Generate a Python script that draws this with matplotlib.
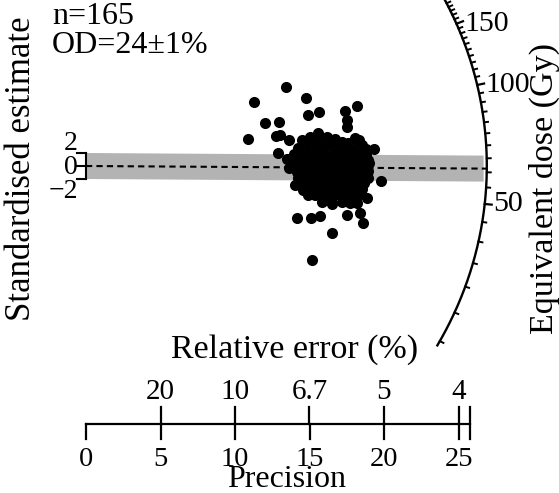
import numpy as np
import matplotlib
matplotlib.use('Agg')
import matplotlib.pyplot as plt
from matplotlib.patches import Polygon

plt.rcParams['font.family'] = ['Liberation Serif', 'DejaVu Serif']

# grains: precision (1/rel. error) and standardised estimate
precision = [
    13.42, 11.30, 14.74, 14.92, 15.66, 12.01, 12.95, 10.87, 12.75, 13.64,
    17.38, 18.19, 17.54, 17.50, 18.03, 18.34, 19.33, 12.91, 13.47, 13.64,
    18.97, 19.78, 14.14, 15.08, 15.70, 16.49, 15.19, 17.50, 18.39, 18.57,
    18.84, 18.17, 16.15, 14.03, 14.56, 14.48, 15.59, 16.15, 15.03, 13.02,
    14.90, 18.95, 18.61,
    14.70, 15.37, 16.04, 16.71, 17.18,
    14.23, 14.90, 15.57, 16.24, 16.91, 17.58, 18.26, 18.79,
    13.96, 14.56, 15.17, 15.77, 16.38, 16.98, 17.58, 18.19, 18.79,
    14.09, 14.70, 15.30, 15.91, 16.51, 17.11, 17.72, 18.32, 18.93,
    13.89, 14.50, 15.10, 15.70, 16.31, 16.91, 17.52, 18.12, 18.72,
    14.15, 14.75, 15.35, 15.95, 16.55, 17.15, 17.75, 18.35, 18.90,
    14.23, 14.83, 15.44, 16.04, 16.64, 17.25, 17.85, 18.46,
    14.56, 15.17, 15.77, 16.38, 16.98, 17.58, 18.19, 18.66,
    15.03, 15.64, 16.24, 16.85, 17.45, 18.05, 18.52,
    15.37, 15.97, 16.58, 17.18, 17.79, 18.26,
    15.84, 16.51, 17.18, 17.72,
    15.0, 15.9, 16.7, 17.4, 18.0, 14.4, 15.5, 16.2, 17.3, 18.0,
    14.3, 15.4, 16.0, 16.8, 17.6, 18.4, 14.4, 15.2, 16.1, 16.9,
    17.8, 14.9, 15.7, 16.4, 17.4, 18.1, 15.4, 16.2, 17.0, 17.9,
    15.8, 16.6, 17.4, 16.0, 16.9,
    16.3, 17.6, 15.3, 18.5, 16.0,
]
std_estimate = [
    12.20, 9.89, 10.51, 7.85, 8.26, 6.66, 6.72, 4.15, 4.62, 4.00,
    8.51, 9.23, 7.08, 6.05, 4.35, 4.00, 2.62, 1.95, 1.03, -0.35,
    0.42, -2.31, -7.95, -8.05, -7.65, -10.26, -14.46, -7.54, -7.28, -8.82,
    -4.97, -5.74, -5.23, -2.92, -3.69, 4.00, 5.03, 4.51, 4.51, 4.77,
    -4.46, -1.89, 0.92,
    3.9, 4.2, 3.8, 4.1, 3.7,
    2.8, 3.1, 2.9, 3.2, 2.7, 3.0, 2.9, 2.6,
    1.9, 1.7, 2.0, 1.8, 1.6, 2.0, 1.7, 1.9, 1.8,
    0.9, 1.1, 0.8, 1.0, 0.7, 0.9, 1.1, 0.8, 1.0,
    0.1, -0.2, 0.0, 0.2, -0.1, 0.1, -0.2, 0.0, 0.1,
    -0.9, -1.0, -0.8, -1.1, -0.9, -0.7, -1.0, -0.9, -0.8,
    -1.8, -2.0, -1.7, -1.9, -1.8, -2.0, -1.7, -1.9,
    -2.7, -2.9, -2.6, -2.8, -2.9, -2.7, -2.8, -2.6,
    -3.6, -3.8, -3.7, -3.6, -3.8, -3.7, -3.5,
    -4.5, -4.7, -4.6, -4.5, -4.7, -4.4,
    -5.6, -5.8, -5.5, -5.7,
    2.4, 2.3, 2.5, 2.2, 2.4, 1.3, 1.4, 1.2, 1.5, 1.3,
    0.5, 0.4, 0.6, 0.4, 0.5, 0.4, -0.5, -0.4, -0.6, -0.4,
    -0.5, -1.4, -1.3, -1.5, -1.4, -1.3, -2.3, -2.4, -2.2, -2.3,
    -3.2, -3.3, -3.1, -4.1, -4.2,
    3.5, 3.6, 3.4, 3.3, -5.0,
]

n_grains = 165
overdispersion = '24±1%'
central_dose = 62.2        # Gy, where the 0 line meets the arc
central_slope = -0.015     # dashed line leans a little
dose_range = [19.3, 215.0]
dose_major = [50, 100, 150]
dose_minor = [20, 25, 30, 35, 40, 45, 55, 60, 65, 70, 75, 80, 85, 90, 95,
              105, 110, 115, 120, 125, 130, 135, 140, 145, 155, 160, 165,
              170, 175, 180, 185, 190, 195, 200, 205, 210]
precision_ticks = [0, 5, 10, 15, 20, 25]
precision_max = 25.74
rel_error_ticks = [20, 10, 6.667, 5, 4]
rel_error_labels = ['20', '10', '6.7', '5', '4']

# pixel layout of the 559x493 picture
W, H = 559, 493
X0, KX = 86.0, 14.9     # pixel of precision 0, pixels per unit
Y0, KY = 166.0, 6.5     # pixel of estimate 0, pixels per unit


def px(x):
    return (x - X0) / KX


def py(y):
    return (Y0 - y) / KY


R, F2 = 26.9, 0.22
z0 = np.log(central_dose)


def on_arc(d, extra_px=0.0):
    s = np.log(d) - z0
    x = R / np.sqrt(1 + F2 * s ** 2)
    y = s * x
    if extra_px:
        n = np.hypot(x * KX, y * KY)
        k = (n + extra_px) / n
        x, y = x * k, y * k
    return x, y


fig = plt.figure(figsize=(W / 100, H / 100), dpi=100)
ax = fig.add_axes([0, 0, 1, 1])
ax.set_xlim(px(0), px(W))
ax.set_ylim(py(H), py(0))
ax.axis('off')

# +-2 band and central line
xe = R * 0.992
band = Polygon([(0, -2), (0, 2), (xe, 2 + central_slope * xe), (xe, -2 + central_slope * xe)],
               closed=True, facecolor='#b3b3b3', edgecolor='none', zorder=1)
ax.add_patch(band)
ax.plot([0, R], [0, central_slope * R], color='k', lw=1.5, ls=(0, (3, 2)), zorder=2)

ax.scatter(precision, std_estimate, s=64, c='k', linewidths=0, zorder=3)

# dose arc
d = np.geomspace(dose_range[0], dose_range[1], 400)
ax.plot(*on_arc(d), color='k', lw=1.7, zorder=4)
for v in dose_minor:
    x1, y1 = on_arc(v)
    x2, y2 = on_arc(v, 4)
    ax.plot([x1, x2], [y1, y2], color='k', lw=1.4)
for v in dose_major:
    x1, y1 = on_arc(v)
    x2, y2 = on_arc(v, 7)
    ax.plot([x1, x2], [y1, y2], color='k', lw=1.6)
    ax.text(x1 + 8 / KX, y1, str(v), fontsize=21.5, ha='left', va='center')

# short y axis
ax.plot([0, 0], [-2, 2], color='k', lw=1.5)
for v in [-2, 0, 2]:
    ax.plot([-9 / KX, 0], [v, v], color='k', lw=1.5)
ax.text(px(78), py(143), '2', fontsize=20, ha='right', va='center')
ax.text(px(78), py(167), '0', fontsize=20, ha='right', va='center')
ax.text(px(78), py(192), '−2', fontsize=20, ha='right', va='center')

# precision / relative error axis
yb, ydn, yup = py(424), py(439), py(407)
ax.plot([0, precision_max], [yb, yb], color='k', lw=1.6)
for v in precision_ticks:
    ax.plot([v, v], [yb, ydn], color='k', lw=1.6)
    ax.text(v, py(466), str(v), fontsize=20.5, ha='center', va='baseline')
for v, lab in zip(rel_error_ticks, rel_error_labels):
    p = 100 / v
    ax.plot([p, p], [yb, yup], color='k', lw=1.6)
    ax.text(p, py(399), lab, fontsize=21, ha='center', va='baseline')
ax.plot([precision_max, precision_max], [ydn, yup], color='k', lw=1.6)

ax.text(px(295), py(358), 'Relative error (%)', fontsize=24.5, ha='center', va='baseline')
ax.text(px(287), py(487), 'Precision', fontsize=23, ha='center', va='baseline')
ax.text(px(22), py(169), 'Standardised estimate', fontsize=25, rotation=90,
        ha='center', va='center')
ax.text(px(544), py(188), 'Equivalent dose (Gy)', fontsize=24.5, rotation=90,
        ha='center', va='center')
ax.text(px(52), py(24), 'n={}'.format(n_grains), fontsize=23, ha='left', va='baseline')
ax.text(px(52), py(53), 'OD=' + overdispersion, fontsize=23, ha='left', va='baseline')

fig.savefig('out.png', dpi=100)
